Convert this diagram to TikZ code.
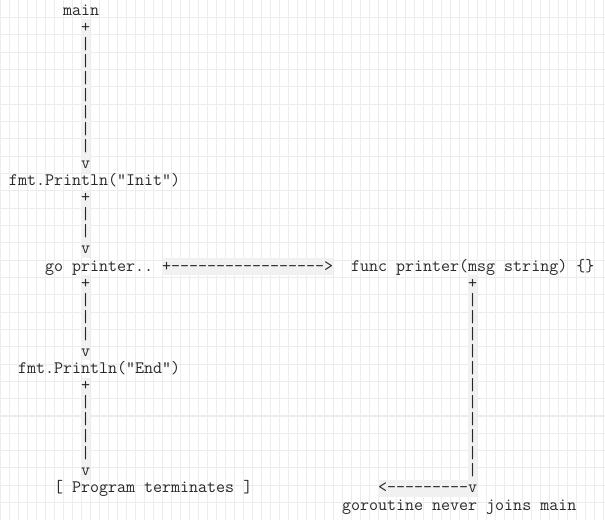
\documentclass[tikz,border=0pt]{standalone}
\usepackage{fontspec}
\definecolor{gridc}{RGB}{236,236,236}
\definecolor{bandc}{RGB}{241,241,241}
\definecolor{inkc}{RGB}{40,40,40}
\newcommand\bl[1]{15+17.07*#1}
\newcommand\rt[1]{2+17.07*#1}
\newcommand\rb[1]{19.07+17.07*#1}
\begin{document}
\begin{tikzpicture}[x=1pt,y=-1pt,
  txt/.style={anchor=base west, inner sep=0pt, outer sep=0pt,
    font=\ttfamily\fontsize{17.5}{17}\selectfont, text=inkc},
  band/.style={fill=bandc, draw=none}]
\useasboundingbox (0,0) rectangle (605,520);
\fill[white] (0,0) rectangle (605,520);
% grid
\foreach \i in {0,...,67} \draw[gridc, line width=1pt] ({\i*9+0.5},0) -- ({\i*9+0.5},520);
\foreach \j in {1,...,29} \draw[gridc, line width=1pt] (0,{\j*17.333}) -- (605,{\j*17.333});
% highlight bands
\fill[band] (81,{\rt{1}}) rectangle (90,{\rb{9}});
\fill[band] (81,{\rt{11}}) rectangle (90,{\rb{14}});
\fill[band] (81,{\rt{16}}) rectangle (90,{\rb{20}});
\fill[band] (81,{\rt{22}}) rectangle (90,{\rb{27}});
\fill[band] (162,{\rt{15}}) rectangle (333,{\rb{15}});
\fill[band] (468,{\rt{16}}) rectangle (477,{\rb{28}});
\fill[band] (378,{\rt{28}}) rectangle (468,{\rb{28}});
% left column
\node[txt] (main) at (63,{\bl{0}}) {main};
\node[txt] (pa) at (81,{\bl{1}}) {+};
\foreach \r in {2,...,8} \node[txt] (bara\r) at (81,{\bl{\r}}) {|};
\node[txt] (va) at (81,{\bl{9}}) {v};
\node[txt] (init) at (9,{\bl{10}}) {fmt.Println("Init")};
\node[txt] (pb) at (81,{\bl{11}}) {+};
\foreach \r in {12,13} \node[txt] (barb\r) at (81,{\bl{\r}}) {|};
\node[txt] (vb) at (81,{\bl{14}}) {v};
\node[txt] (go) at (45,{\bl{15}}) {go printer..};
\node[txt] (arr) at (162,{\bl{15}}) {+-{}-{}-{}-{}-{}-{}-{}-{}-{}-{}-{}-{}-{}-{}-{}-{}-{}\symbol{62}};
\node[txt] (func) at (351,{\bl{15}}) {func printer(msg string) \{\}};
\node[txt] (pc) at (81,{\bl{16}}) {+};
\foreach \r in {17,18,19} \node[txt] (barc\r) at (81,{\bl{\r}}) {|};
\node[txt] (vc) at (81,{\bl{20}}) {v};
\node[txt] (endp) at (18,{\bl{21}}) {fmt.Println("End")};
\node[txt] (pd) at (81,{\bl{22}}) {+};
\foreach \r in {23,...,26} \node[txt] (bard\r) at (81,{\bl{\r}}) {|};
\node[txt] (vd) at (81,{\bl{27}}) {v};
\node[txt] (term) at (54,{\bl{28}}) {[ Program terminates ]};
% right column
\node[txt] (pr) at (468,{\bl{16}}) {+};
\foreach \r in {17,...,27} \node[txt] (barr\r) at (468,{\bl{\r}}) {|};
\node[txt] (back) at (378,{\bl{28}}) {\symbol{60}-{}-{}-{}-{}-{}-{}-{}-{}-{}v};
\node[txt] (never) at (342,{\bl{29}}) {goroutine never joins main};
\end{tikzpicture}
\end{document}
